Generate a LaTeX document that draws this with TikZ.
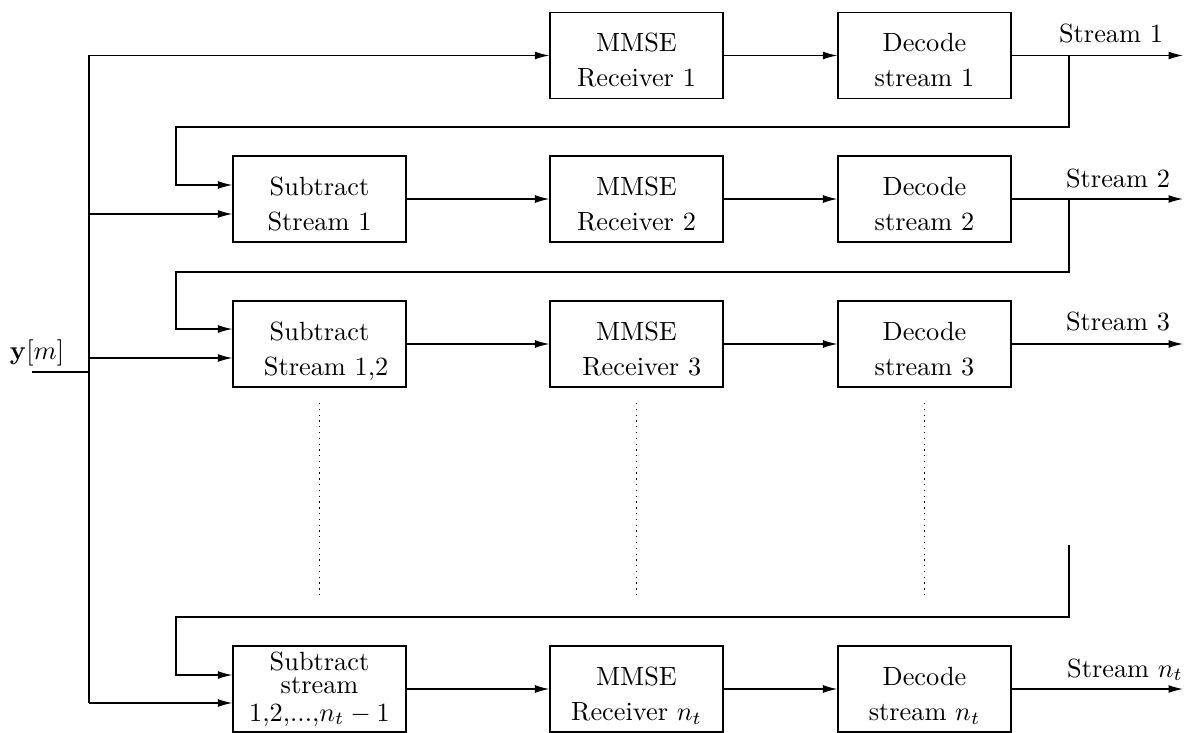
\documentclass[tikz,border=0pt]{standalone}
\usetikzlibrary{arrows.meta}
\newcommand\blktop{\rule{0pt}{12.6pt}}
\newcommand\blkbot{\rule[-2pt]{0pt}{2pt}}
\begin{document}
\begin{tikzpicture}[x=0.38pt,y=-0.38pt, line width=0.5pt,
  blk/.style={draw, minimum width=65.7pt, minimum height=32.7pt, align=center, inner sep=0pt},
  arr/.style={-{Latex[length=5.5pt,width=3pt]}},
  dots/.style={line width=0.5pt, dash pattern=on 0.5pt off 1.7pt},
  lbl/.style={anchor=base, inner sep=0pt}]
\useasboundingbox (0,0) rectangle (1192,733);

% blocks
\node[blk] (m1) at (636.5,55.5) {\blktop MMSE\\[1.3pt]Receiver 1\blkbot};
\node[blk] (d1) at (924.5,55.5) {\blktop Decode\\[1.3pt]stream 1\blkbot};
\node[blk] (s2) at (319.5,199) {\blktop Subtract\\[1.3pt]Stream 1\blkbot};
\node[blk] (m2) at (636.5,199) {\blktop MMSE\\[1.3pt]Receiver 2\blkbot};
\node[blk] (d2) at (924.5,199) {\blktop Decode\\[1.3pt]stream 2\blkbot};
\node[blk] (s3) at (319.5,344) {\blktop Subtract\\[1.3pt]\hspace*{5pt}Stream 1,2\blkbot};
\node[blk] (m3) at (636.5,344) {\blktop MMSE\\[1.3pt]\hspace*{4pt}Receiver 3\blkbot};
\node[blk] (d3) at (924.5,344) {\blktop Decode\\[1.3pt]stream 3\blkbot};
\node[blk] (s4) at (319.5,689) {Subtract\\[-3.3pt]stream\\[-1.4pt]1,2,...,$n_t-1$\blkbot};
\node[blk] (m4) at (636.5,689) {\blktop MMSE\\[1.3pt]Receiver $n_t$\blkbot};
\node[blk] (d4) at (924.5,689) {\blktop Decode\\[1.3pt]stream $n_t$\blkbot};

% input and bus
\node[lbl] (y) at (37,360) {$\mathbf{y}[m]$};
\coordinate (in) at (32,372);
\coordinate (b0) at (89,372);
\coordinate (b1) at (89,55.5);
\coordinate (b2) at (89,214);
\coordinate (b3) at (89,358);
\coordinate (b4) at (89,703);
\draw (in) -- (b0);
\draw (b1) -- (b4);
\draw[arr] (b1) -- (m1.west);
\draw[arr] (b2) -- (b2 -| s2.west);
\draw[arr] (b3) -- (b3 -| s3.west);
\draw[arr] (b4) -- (b4 -| s4.west);

% chain arrows
\draw[arr] (m1.east) -- (d1.west);
\draw[arr] (s2.east) -- (m2.west);
\draw[arr] (m2.east) -- (d2.west);
\draw[arr] (s3.east) -- (m3.west);
\draw[arr] (m3.east) -- (d3.west);
\draw[arr] (s4.east) -- (m4.west);
\draw[arr] (m4.east) -- (d4.west);

% outputs
\coordinate (o1) at (1183,55.5);
\coordinate (o2) at (1183,199);
\coordinate (o3) at (1183,344);
\coordinate (o4) at (1183,689);
\draw[arr] (d1.east) -- (o1);
\draw[arr] (d2.east) -- (o2);
\draw[arr] (d3.east) -- (o3);
\draw[arr] (d4.east) -- (o4);
\node[lbl] (l1) at (1111,43) {Stream 1};
\node[lbl] (l2) at (1118,188) {Stream 2};
\node[lbl] (l3) at (1118,331) {Stream 3};
\node[lbl] (l4) at (1125,677) {Stream $n_t$};

% feedback
\coordinate (t1) at (1069,55.5);
\coordinate (h2) at (176,127);
\coordinate (k2) at (176,185);
\draw[arr] (t1) -- (t1 |- h2) -- (h2) -- (k2) -- (k2 -| s2.west);
\coordinate (t2) at (1069,199);
\coordinate (h3) at (176,272);
\coordinate (k3) at (176,329);
\draw[arr] (t2) -- (t2 |- h3) -- (h3) -- (k3) -- (k3 -| s3.west);
\coordinate (t4) at (1069,545);
\coordinate (h4) at (176,617);
\coordinate (k4) at (176,675);
\draw[arr] (t4) -- (t4 |- h4) -- (h4) -- (k4) -- (k4 -| s4.west);

% dotted continuation
\draw[dots] (319.5,403) -- (319.5,599);
\draw[dots] (636.5,403) -- (636.5,599);
\draw[dots] (924.5,403) -- (924.5,599);
\end{tikzpicture}
\end{document}
